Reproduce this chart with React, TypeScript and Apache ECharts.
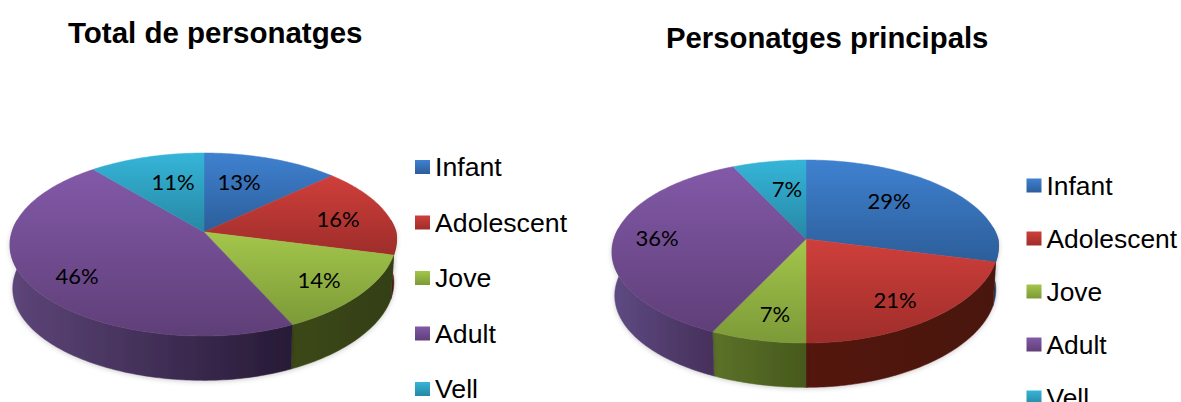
import React, { useEffect, useRef } from "react";
import * as echarts from "echarts";

const categories = ["Infant", "Adolescent", "Jove", "Adult", "Vell"];
const totalValues = [13, 16, 14, 46, 11];
const mainValues = [29, 21, 7, 36, 7];
const titles = ["Total de personatges", "Personatges principals"];

const topColours = [
  ["#3f81d0", "#2c5e9a"],
  ["#cf3f3b", "#9e2d2a"],
  ["#a3c64b", "#7c9a38"],
  ["#8259a8", "#5f3f78"],
  ["#35b5d8", "#2787a4"],
];
const wallColoursTotal = [
  ["#2c3f60", "#2c3f60"],
  ["#5a1a18", "#4a1511"],
  ["#3c4818", "#333f14"],
  ["#5d4579", "#271a36"],
  ["#1c5a6c", "#1c5a6c"],
];
const wallColoursMain = [
  ["#2c3f60", "#2c3f60"],
  ["#54160f", "#4a1511"],
  ["#5c7229", "#46591c"],
  ["#5e4a82", "#46305a"],
  ["#1c5a6c", "#1c5a6c"],
];

const LABEL_OFFSETS_TOTAL = [[35, -51], [134, -14], [115, 47.5], [-127, 43.5], [-31, -51]];
const LABEL_OFFSETS_MAIN = [[83, -39], [89, 60.5], [-31, 74.5], [-149, -1.5], [-19, -51]];

const RX = 192;
const RY = 89.8;
const P = 0.1366;
const PX_FRONT = 0.11;
const SKEW_FRONT = 6.6;
const DEPTH = 43.5;

function project(cx: number, cy: number, deg: number): [number, number, number] {
  const a = (deg * Math.PI) / 180;
  const u = Math.sin(a);
  const v = -Math.cos(a);
  const w = 1 - P * v;
  const wx = v > 0 ? 1 - PX_FRONT * v : w;
  const skew = v > 0 ? SKEW_FRONT * v * Math.abs(u) : 0;
  return [cx + (RX * u) / wx - skew, cy + (RY * v) / w, v];
}

function grad(c: string[], horizontal: boolean) {
  return new echarts.graphic.LinearGradient(0, 0, horizontal ? 1 : 0, horizontal ? 0 : 1, [
    { offset: 0, color: c[0] },
    { offset: 1, color: c[1] },
  ]);
}

function pieSeries(
  values: number[],
  cx: number,
  cy: number,
  walls: string[][],
  offsets: number[][],
) {
  let acc = 0;
  return values.map((value, i) => {
    const start = acc;
    acc += value;
    return {
      type: "custom",
      name: categories[i],
      coordinateSystem: "none",
      silent: true,
      data: [[start, value]],
      renderItem: (_p: any, api: any) => {
        const from = (api.value(0) / 100) * 360;
        const span = (api.value(1) / 100) * 360;
        const steps = Math.max(2, Math.ceil(span));
        const ring: [number, number, number][] = [];
        for (let s = 0; s <= steps; s++) ring.push(project(cx, cy, from + (span * s) / steps));
        const front = ring.filter((p) => p[2] >= -P);
        const children: any[] = [];
        if (front.length > 1) {
          const lower = front
            .map((p) => [cx + (p[0] - cx) * 0.986, p[1] + DEPTH * (1 + 0.02 * p[2])])
            .reverse();
          const fill = grad(walls[i], true);
          children.push({
            type: "polygon",
            z2: 0,
            shape: { points: [...front.map((p) => [p[0], p[1]]), ...lower] },
            style: {
              fill,
              stroke: fill,
              lineWidth: 0.5,
              shadowBlur: 5,
              shadowColor: "rgba(0,0,0,0.2)",
              shadowOffsetY: 1,
            },
          });
        }
        const topFill = grad(topColours[i], false);
        children.push({
          type: "polygon",
          z2: 1,
          shape: { points: [[cx, cy], ...ring.map((p) => [p[0], p[1]])] },
          style: { fill: topFill, stroke: topFill, lineWidth: 0.5 },
        });
        children.push({
          type: "text",
          z2: 2,
          x: cx + offsets[i][0],
          y: cy + offsets[i][1],
          style: {
            text: `${api.value(1)}%`,
            fill: "#000",
            font: '22px Lato, "Open Sans", sans-serif',
            align: "center",
            verticalAlign: "middle",
          },
        });
        return { type: "group", children };
      },
    };
  });
}

function legendBlock(left: number, top: number, gap: number, fontSize: number) {
  return {
    orient: "vertical",
    left,
    top,
    height: 600,
    padding: 0,
    itemGap: gap,
    itemWidth: 15,
    itemHeight: 14,
    selectedMode: false,
    textStyle: {
      color: "#000",
      fontFamily: '"Liberation Sans", Arial, sans-serif',
      fontSize,
    },
    data: categories.map((name, i) => ({
      name,
      icon: "rect",
      itemStyle: { color: grad(topColours[i], false) },
    })),
  };
}

function titleBlock(text: string, left: number, top: number, fontSize: number) {
  return {
    text,
    left,
    top,
    padding: 0,
    textStyle: {
      color: "#000",
      fontFamily: '"Liberation Sans", Arial, sans-serif',
      fontWeight: "bold",
      fontSize,
    },
  };
}

export default function App() {
  const ref = useRef<HTMLDivElement>(null);
  useEffect(() => {
    const chart = echarts.init(ref.current!, undefined, { renderer: "svg" });
    chart.setOption({
      animation: false,
      backgroundColor: "#fff",
      title: [titleBlock(titles[0], 68, 17, 29.5), titleBlock(titles[1], 666, 23, 29.3)],
      legend: [legendBlock(415, 153.5, 28.5, 26.7), legendBlock(1026.5, 172.5, 27, 26.4)],
      series: [
        ...pieSeries(totalValues, 204, 232, wallColoursTotal, LABEL_OFFSETS_TOTAL),
        ...pieSeries(mainValues, 806, 239, wallColoursMain, LABEL_OFFSETS_MAIN),
      ],
    });
    return () => chart.dispose();
  }, []);
  return <div ref={ref} style={{ position: "absolute", left: 0, top: 0, width: 1181, height: 402 }} />;
}
